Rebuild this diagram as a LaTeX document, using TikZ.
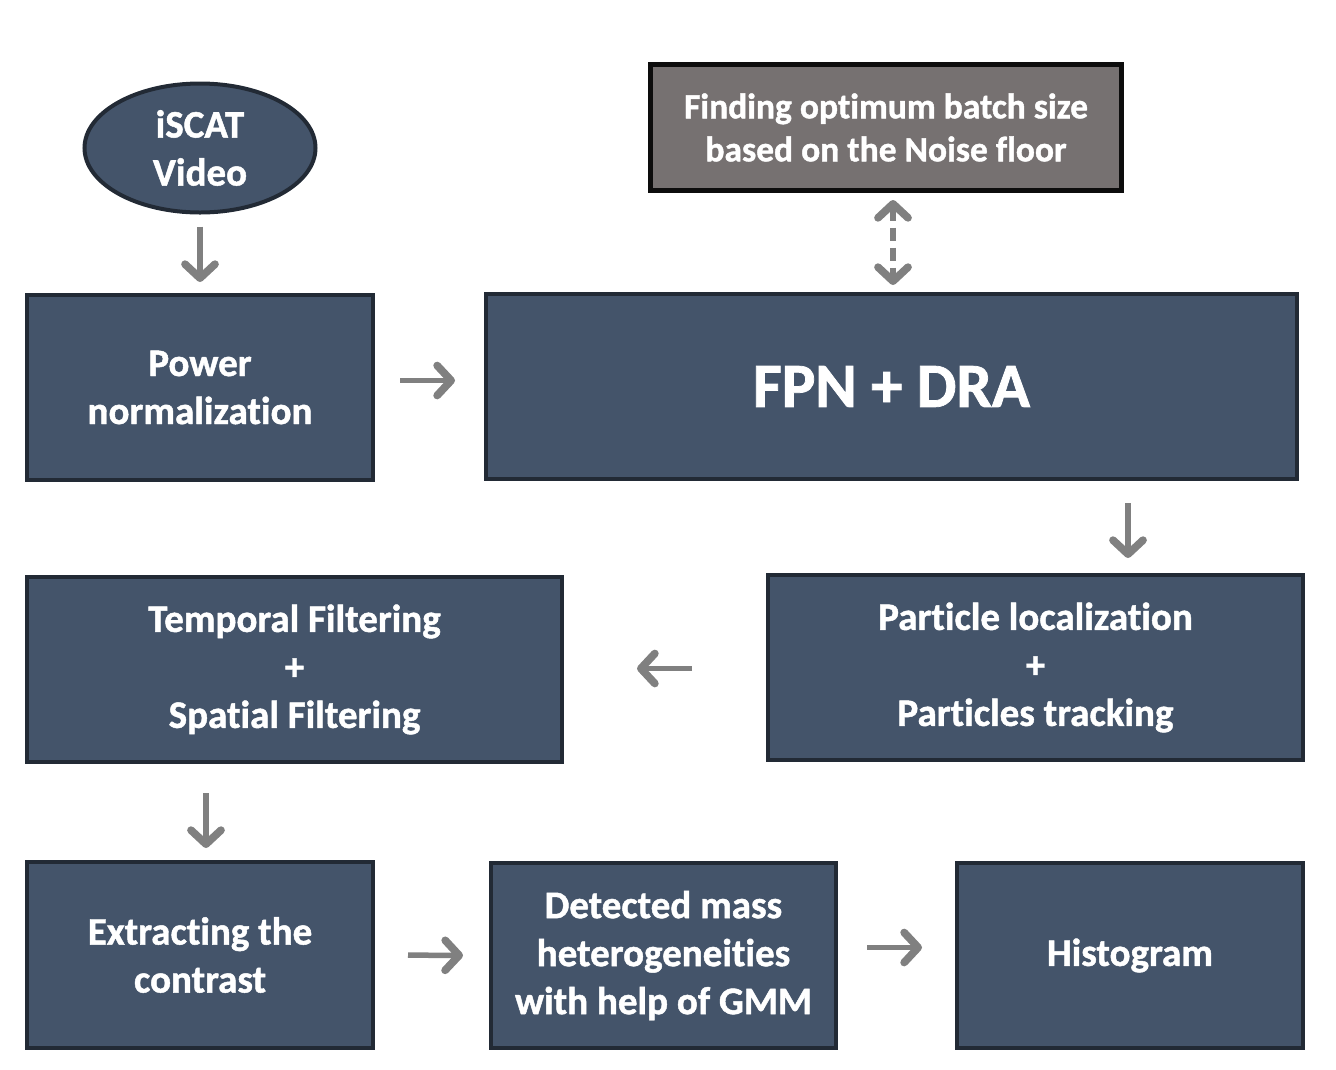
\documentclass[tikz,border=0pt]{standalone}
\usepackage{fontspec}
\setmainfont{Carlito}[BoldFeatures={FakeBold=1.2},RawFeature=-liga]
\usetikzlibrary{arrows.meta,shapes.geometric}
\definecolor{boxfill}{HTML}{44546A}
\definecolor{boxline}{HTML}{222A35}
\definecolor{grayfill}{HTML}{767171}
\definecolor{arrgray}{HTML}{808080}
\tikzset{
  blk/.style={draw=boxline, line width=4pt, fill=boxfill, text=white, font=\bfseries\fontsize{39}{48}\selectfont, align=center, inner sep=0pt, anchor=north west},
  tip/.tip={Straight Barb[length=14pt,width=30pt,line width=0pt 1.4,line cap=round,line join=round]},
  arr/.style={draw=arrgray, line width=5.5pt, -tip},
}
\begin{document}
\begin{tikzpicture}[x=1pt,y=-1pt]
\useasboundingbox (0,0) rectangle (1336,1069);
\node[blk, ellipse, minimum width=231pt, minimum height=129pt, anchor=center] (vid) at (200,148) {iSCAT\\Video};
\node[blk, minimum width=346pt, minimum height=185pt] (pn) at (25,293) {Power\\normalization};
\node[blk, minimum width=811pt, minimum height=185pt, font=\bfseries\fontsize{63}{66}\selectfont] (fpn) at (484,292) {FPN + DRA};
\node[blk, draw=black!95, fill=grayfill, line width=5pt, minimum width=471pt, minimum height=126pt, font=\bfseries\fontsize{35.5}{43}\selectfont] (opt) at (648,62) {Finding optimum batch size\\based on the Noise floor};
\node[blk, minimum width=535pt, minimum height=185pt] (loc) at (766,573) {Particle localization\\+\\Particles tracking};
\node[blk, minimum width=535pt, minimum height=185pt] (flt) at (25,575) {Temporal Filtering\\+\\Spatial Filtering};
\node[blk, minimum width=346pt, minimum height=186pt] (ext) at (25,860) {Extracting the\\contrast};
\node[blk, minimum width=345pt, minimum height=185pt] (gmm) at (489,861) {Detected mass\\heterogeneities\\with help of GMM};
\node[blk, minimum width=346pt, minimum height=185pt] (his) at (955,861) {Histogram};

\draw[arr, shorten <=12pt, shorten >=11pt] (vid.south) -- (pn.north -| vid.south);
\draw[arr, shorten <=25pt, shorten >=29pt] ([yshift=7pt]pn.east) -- ([yshift=7pt]pn.east -| fpn.west);
\draw[draw=arrgray, line width=5.5pt, dash pattern=on 13pt off 7pt, tip-tip, shorten <=7pt, shorten >=7pt] (opt.south -| 893,0) -- (fpn.north -| 893,0);
\draw[arr, shorten <=22pt, shorten >=15pt] (fpn.south -| 1128,0) -- (loc.north -| 1128,0);
\draw[arr, shorten <=74pt, shorten >=73pt] ([yshift=-1pt]loc.west) -- ([yshift=-1pt]loc.west -| flt.east);
\draw[arr, shorten <=29pt, shorten >=12pt] (flt.south -| 206,0) -- (ext.north -| 206,0);
\draw[arr, shorten <=33pt, shorten >=26pt] (ext.east) -- (gmm.west);
\draw[arr, shorten <=29pt, shorten >=33pt] ([yshift=8pt]gmm.east) -- ([yshift=8pt]gmm.east -| his.west);
\end{tikzpicture}
\end{document}
